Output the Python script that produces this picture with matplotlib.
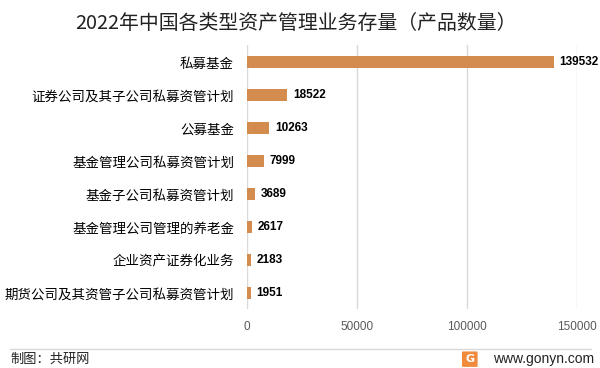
import matplotlib
matplotlib.use("Agg")
import matplotlib.pyplot as plt
from matplotlib.patches import FancyBboxPatch

plt.rcParams['font.family'] = ['Noto Sans CJK SC', 'DejaVu Sans']

categories = ["私募基金", "证券公司及其子公司私募资管计划", "公募基金", "基金管理公司私募资管计划",
              "基金子公司私募资管计划", "基金管理公司管理的养老金", "企业资产证券化业务",
              "期货公司及其资管子公司私募资管计划"]
values = [139532, 18522, 10263, 7999, 3689, 2617, 2183, 1951]
xticks = [0, 50000, 100000, 150000]
title = "2022年中国各类型资产管理业务存量（产品数量）"
bar_color = "#D38C4E"

fig = plt.figure(figsize=(6.0, 3.68), dpi=100)
ax = fig.add_axes([0.411, 0.159, 0.5505, 0.7175])

y = list(range(len(categories)))
ax.barh(y, values, height=0.37, color=bar_color, zorder=3)
ax.set_ylim(len(categories) - 0.5, -0.5)
ax.set_xlim(0, 150000)
ax.set_yticks(y)
ax.set_yticklabels(categories, fontsize=9.7, color="#000000")
ax.set_xticks(xticks)
ax.set_xticklabels([str(t) for t in xticks], fontsize=8.5, color="#595959",
                   family=['Liberation Sans', 'DejaVu Sans'])
ax.tick_params(axis='both', length=0)
ax.tick_params(axis='y', pad=9)
ax.tick_params(axis='x', pad=8)
for s in ax.spines.values():
    s.set_visible(False)
ax.grid(axis='x', color="#d9d9d9", linewidth=1, zorder=0)

for yi, v in zip(y, values):
    ax.annotate(str(v), (v, yi), xytext=(4, 0), textcoords='offset points',
                va='center', ha='left', fontsize=8.5, fontweight='bold',
                family=['Liberation Sans', 'DejaVu Sans'], color="#000000")

fig.text(0.493, 0.935, title, fontsize=14.3, ha='center', va='center', color="#222222")

fig.add_artist(plt.Line2D([0.017, 0.985], [0.052, 0.052], color="#d9d9d9", linewidth=1))
fig.text(0.017, 0.025, "制图：共研网", fontsize=9.5, ha='left', va='center', color="#222222")
fig.text(0.99, 0.025, "www.gonyn.com", fontsize=10, ha='right', va='center', color="#222222",
         family=['Liberation Sans', 'DejaVu Sans'])
logo = FancyBboxPatch((0.772, 0.005), 0.022, 0.038, boxstyle="round,pad=0.002",
                      transform=fig.transFigure, facecolor="#F08A3C", edgecolor="none")
fig.add_artist(logo)
fig.text(0.783, 0.025, "G", fontsize=8, ha='center', va='center', color="white",
         fontweight='bold', family=['DejaVu Sans'])

fig.savefig("out.png", dpi=100)
